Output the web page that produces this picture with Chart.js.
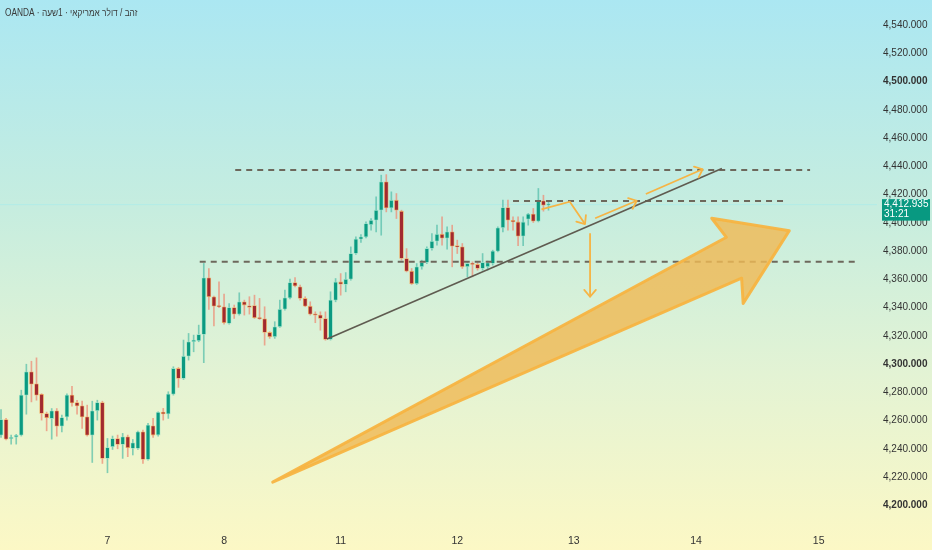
<!DOCTYPE html>
<html><head><meta charset="utf-8">
<script src="https://cdn.jsdelivr.net/npm/chart.js@4.4.1/dist/chart.umd.min.js"></script>
<style>
html,body{margin:0;padding:0;}
body{width:932px;height:550px;overflow:hidden;background:linear-gradient(to bottom,#abe7f2 0%,#c6eddf 38%,#e3f3d4 68%,#fcf8c5 100%);font-family:"Liberation Sans","DejaVu Sans",sans-serif;}
#wrap{position:relative;width:932px;height:550px;}
#title{position:absolute;left:5px;top:7px;font-size:10px;line-height:12px;color:#3a3a3a;white-space:nowrap;transform:scaleX(0.83);transform-origin:0 0;}
</style></head><body>
<div id="wrap"><canvas id="c"></canvas><div id="title" dir="rtl">זהב / דולר אמריקאי · 1שעה · OANDA</div></div>
<script>
// ---- candle data (hourly, index = candle position) ----
const opens = [4249.6,4260.7,4247.2,4248.3,4249.6,4278,4294.5,4286,4278.6,4265, 4261.4,4266.9,4256,4262.6,4278,4272.8,4270.4,4262.6,4249.6,4266.9, 4272.8,4233.1,4241.5,4247.3,4243.1,4248.5,4240.3,4240.3,4252,4232.5, 4256.3,4249.7,4266,4264.6,4278.7,4296.9,4289.8,4305.6,4315.8,4316.5, 4321,4361.1,4347.7,4341.5,4340.6,4328.8,4340.1,4335.4,4344.1,4341.3, 4341.5,4332.8,4332.1,4322.4,4319.3,4326.4,4338.9,4346.9,4357.8,4354.7, 4346.5,4341,4335.4,4334.7,4332.3,4317.4,4345.3,4358.2,4356.4,4360.1, 4378.3,4388.5,4390.1,4398.8,4401.9,4409,4429.1,4410.6,4416.1,4408.3, 4374.8,4365.8,4357,4368.9,4372,4381.9,4387,4392,4389.2,4393.7, 4383.8,4383,4368.9,4371.3,4370.6,4367.7,4369,4371.3,4380,4396.5, 4410.9,4401.9,4400.7,4390.6,4402.6,4406.2,4401.2,4415.6,4412.6];
const highs = [4267.8,4261.5,4249.7,4250.2,4281.5,4299.9,4302,4304.4,4279,4266, 4268.5,4268.5,4263.8,4279,4284.3,4274.4,4273.7,4270.9,4273.7,4274.4, 4273.7,4247.3,4249,4249.7,4250.9,4249.7,4246.6,4252.5,4253.3,4258, 4261.5,4266.2,4268.6,4280.4,4298.1,4297.6,4317,4321.7,4320.5,4327.6, 4371.3,4367.7,4348.1,4358.3,4349.5,4342.9,4341.8,4350.5,4345.3,4347.7, 4348.8,4346.5,4340.6,4322.9,4330,4345.3,4352.4,4360.2,4361.3,4355.9, 4347.7,4344.1,4337,4337,4337,4351.2,4360.6,4364.1,4364.8,4383, 4390.1,4391.8,4400.7,4403.1,4418.4,4433.8,4434.2,4422,4420.8,4409, 4381.8,4367.7,4371.2,4373.6,4383,4392.5,4398.4,4404.3,4397.2,4398.4, 4387.8,4385.4,4372.4,4372.4,4372,4378.3,4373,4380.7,4397.2,4416.1, 4416.1,4404.3,4404.3,4404.3,4406.7,4410.2,4424.4,4419.6,4414.9];
const lows = [4248,4246.2,4243.3,4243.3,4249,4264.5,4273.2,4274.4,4260.3,4252.7, 4246.8,4248.9,4252,4260.3,4270.2,4264.5,4254.4,4249,4230.3,4260.3, 4229.6,4223,4239.5,4240,4233.2,4234.4,4235.6,4239.6,4229.7,4232, 4248,4249,4260.3,4261.5,4278,4283.5,4289.1,4302.8,4308.7,4315.8, 4301,4338.7,4327.1,4340,4328.3,4328.3,4332.3,4334.7,4334.7,4335.4, 4332.3,4331.6,4313.4,4318.2,4318.2,4326,4338.2,4346.2,4354.7,4345.3, 4340.6,4334.7,4329.3,4324,4316.9,4317,4344.1,4348.8,4351.2,4359.4, 4377.6,4386.1,4389.4,4394.8,4393.6,4391.3,4407.8,4407.8,4403.1,4373.6, 4365.3,4356.4,4356.4,4367.2,4371.2,4380.7,4384.2,4384.2,4381.4,4368.9, 4378.3,4367.7,4361.8,4361.8,4366.5,4366.5,4366.5,4370.1,4379.5,4393.7, 4394.9,4394.9,4383.8,4383.8,4398.4,4400.3,4400.7,4408.3,4409];
const closes = [4260.7,4246.8,4247.6,4249.5,4278,4294.5,4285.7,4278,4265,4262, 4266.9,4256,4262.1,4278,4272.5,4270.4,4262.6,4249.6,4266.9,4272.8, 4233.1,4240.9,4247.3,4243.1,4248.5,4240.7,4244.2,4252,4232.5,4256.8, 4249.7,4265.8,4264.6,4278.7,4296.9,4289.8,4305.6,4315.8,4317,4321, 4361.1,4347.7,4341,4340.6,4329.3,4340.1,4335.4,4344.1,4341.8,4340.1, 4332.8,4332.1,4322.4,4319.3,4326.4,4338.9,4346.9,4357.8,4355.4,4346.5, 4341,4335.4,4334.7,4332.3,4317.4,4345.3,4358.2,4356.6,4360.1,4378.3, 4388.5,4390.1,4399.5,4401.9,4409,4429.1,4410.6,4416.1,4409,4374.8, 4365.8,4357,4368.9,4372,4381.9,4387,4392,4389.2,4393.7,4383.5, 4383,4368.9,4371.3,4370.6,4367.7,4372,4371.8,4380,4396.5,4410.9, 4401.9,4400.7,4390.6,4400.7,4406.2,4401.2,4415.6,4412.6,4412.9];

// ---- axes ----
const dayTickIdx = [21, 44, 67, 90, 113, 137.1, 161.3];
const dayLabels = ['7', '8', '11', '12', '13', '14', '15'];
const yTickValues = [4200,4220,4240,4260,4280,4300,4320,4340,4360,4380,4400,4420,4440,4460,4480,4500,4520,4540];
const boldTicks = [4200, 4300, 4500];
const xMin = -0.2, xMax = 172.8;
const yMin = 4186.0, yMax = 4557.9;
const lastPrice = 4412.935;
const countdown = '31:21';

// ---- drawings (x = candle index, y = price) ----
const levelTopIdx = [46.2, 159.6], levelTopPrice = [4437.5, 4437.5];
const levelMidIdx = [101.0, 154.6], levelMidPrice = [4415.5, 4415.5];
const levelLowIdx = [39.2, 168.8], levelLowPrice = [4372.5, 4372.5];
const trendIdx = [64.3, 142.2], trendPrice = [4317.8, 4438.5];
const arrowAIdx = [106.6, 112.2, 115.2], arrowAPrice = [4409.6, 4415.0, 4399.2];
const arrowBIdx = [117.2, 125.4], arrowBPrice = [4403.3, 4415.7];
const arrowCIdx = [127.2, 138.4], arrowCPrice = [4420.5, 4438.0];
const arrowDIdx = [116.2, 116.2], arrowDPrice = [4392.6, 4347.7];
const bigArrowIdx = [53.6, 143.1, 140.2, 155.5, 146.4, 146.1];
const bigArrowPrice = [4216.4, 4389.8, 4403.3, 4394.5, 4343.0, 4360.8];

const UP = '#0b9a81', DOWN = '#a22a30';
const isUp = i => closes[i] >= opens[i];
const pts = (xs, ys) => xs.map((v, k) => ({x: v, y: ys[k]}));
const fmt = v => v.toLocaleString('en-US', {minimumFractionDigits: 3, maximumFractionDigits: 3});
const FONT = '"Liberation Sans","DejaVu Sans",sans-serif';

function lineDs(xs, ys, color, width, dash, extra) {
  return Object.assign({type: 'line', data: pts(xs, ys), borderColor: color, borderWidth: width,
    borderDash: dash || [], pointRadius: 0, fill: false, tension: 0, order: 1}, extra || {});
}

const overlay = {
  id: 'overlay',
  afterDatasetsDraw(chart) {
    const {ctx, scales: {x, y}} = chart;
    chart.data.datasets.forEach((ds, di) => {
      if (!ds.arrowHead) return;
      const p = chart.getDatasetMeta(di).data;
      const a = p[p.length - 2], b = p[p.length - 1];
      const ang = Math.atan2(a.y - b.y, a.x - b.x);
      ctx.save();
      ctx.strokeStyle = ds.borderColor; ctx.lineWidth = ds.borderWidth; ctx.lineCap = 'round';
      ctx.beginPath();
      [-1, 1].forEach(s => { ctx.moveTo(b.x, b.y); ctx.lineTo(b.x + 9 * Math.cos(ang + s * 0.7), b.y + 9 * Math.sin(ang + s * 0.7)); });
      ctx.stroke(); ctx.restore();
    });
    ctx.save();
    ctx.beginPath();
    bigArrowIdx.forEach((v, k) => {
      const px = x.getPixelForValue(v), py = y.getPixelForValue(bigArrowPrice[k]);
      if (k) ctx.lineTo(px, py); else ctx.moveTo(px, py);
    });
    ctx.closePath();
    ctx.fillStyle = 'rgba(239,186,86,0.82)'; ctx.fill();
    ctx.strokeStyle = 'rgba(247,180,66,0.95)'; ctx.lineWidth = 3; ctx.lineJoin = 'round'; ctx.stroke();
    ctx.restore();
  },
  afterDraw(chart) {
    const {ctx, scales: {y}, chartArea} = chart;
    const py = y.getPixelForValue(lastPrice);
    ctx.save();
    ctx.fillStyle = '#089981';
    ctx.fillRect(chartArea.right + 5, py - 5.5, 48, 21.5);
    ctx.fillStyle = '#ffffff'; ctx.font = '10px ' + FONT; ctx.textBaseline = 'middle'; ctx.textAlign = 'left';
    ctx.fillText(fmt(lastPrice), chartArea.right + 7, py);
    ctx.fillText(countdown, chartArea.right + 7, py + 10);
    ctx.restore();
  }
};

new Chart(document.getElementById('c'), {
  type: 'bar',
  data: {
    datasets: [
      lineDs(arrowAIdx, arrowAPrice, '#f6b444', 1.8, null, {arrowHead: true, order: 0}),
      lineDs(arrowBIdx, arrowBPrice, '#f6b444', 1.8, null, {arrowHead: true, order: 0}),
      lineDs(arrowCIdx, arrowCPrice, '#f6b444', 1.8, null, {arrowHead: true, order: 0}),
      lineDs(arrowDIdx, arrowDPrice, '#f6b444', 1.8, null, {arrowHead: true, order: 0}),
      lineDs(trendIdx, trendPrice, '#5f5b50', 1.6, null, {order: 0}),
      lineDs(levelTopIdx, levelTopPrice, '#6d685c', 2, [6, 5]),
      lineDs(levelMidIdx, levelMidPrice, '#6d685c', 2, [6, 5]),
      lineDs(levelLowIdx, levelLowPrice, '#6d685c', 2, [6, 5]),
      lineDs([xMin, xMax], [lastPrice, lastPrice], 'rgba(175,236,232,0.9)', 1, null, {order: 5}),
      {
        label: 'wick', grouped: false, order: 3,
        data: opens.map((o, i) => ({x: i, y: [lows[i], highs[i]]})),
        barThickness: 1, borderWidth: 0,
        backgroundColor: c => isUp(c.dataIndex) ? 'rgba(70,185,165,0.65)' : 'rgba(238,140,118,0.75)'
      },
      {
        label: 'body', grouped: false, order: 2,
        data: opens.map((o, i) => ({x: i, y: [o, closes[i]]})),
        barThickness: 4, minBarLength: 1.2, borderSkipped: false, borderWidth: 0.8,
        backgroundColor: c => isUp(c.dataIndex) ? UP : DOWN,
        borderColor: c => isUp(c.dataIndex) ? 'rgba(150,225,200,0.8)' : 'rgba(242,170,90,0.85)'
      }
    ]
  },
  options: {
    responsive: true, maintainAspectRatio: false, animation: false, events: [],
    layout: {padding: 0},
    plugins: {legend: {display: false}, tooltip: {enabled: false}, title: {display: false}},
    scales: {
      x: {
        type: 'linear', min: xMin, max: xMax, offset: false,
        grid: {display: false, offset: false, drawTicks: false}, border: {display: false},
        afterBuildTicks: s => { s.ticks = dayTickIdx.map(v => ({value: v})); },
        afterFit: s => { s.height = 25; s.paddingLeft = 0; s.paddingRight = 0; },
        ticks: {autoSkip: false, maxRotation: 0, padding: 10, color: '#333',
          font: {size: 10.5, family: FONT},
          callback: (v, i) => dayLabels[i]}
      },
      y: {
        position: 'right', min: yMin, max: yMax,
        grid: {display: false, drawTicks: false}, border: {display: false},
        afterBuildTicks: s => { s.ticks = yTickValues.map(v => ({value: v})); },
        afterFit: s => { s.width = 55; s.paddingTop = 0; s.paddingBottom = 0; },
        ticks: {padding: 6, color: '#333',
          font: c => ({size: 10, family: FONT, weight: (c.tick && boldTicks.includes(c.tick.value)) ? 'bold' : 'normal'}),
          callback: v => fmt(v)}
      }
    }
  },
  plugins: [overlay]
});
</script>
</body></html>
